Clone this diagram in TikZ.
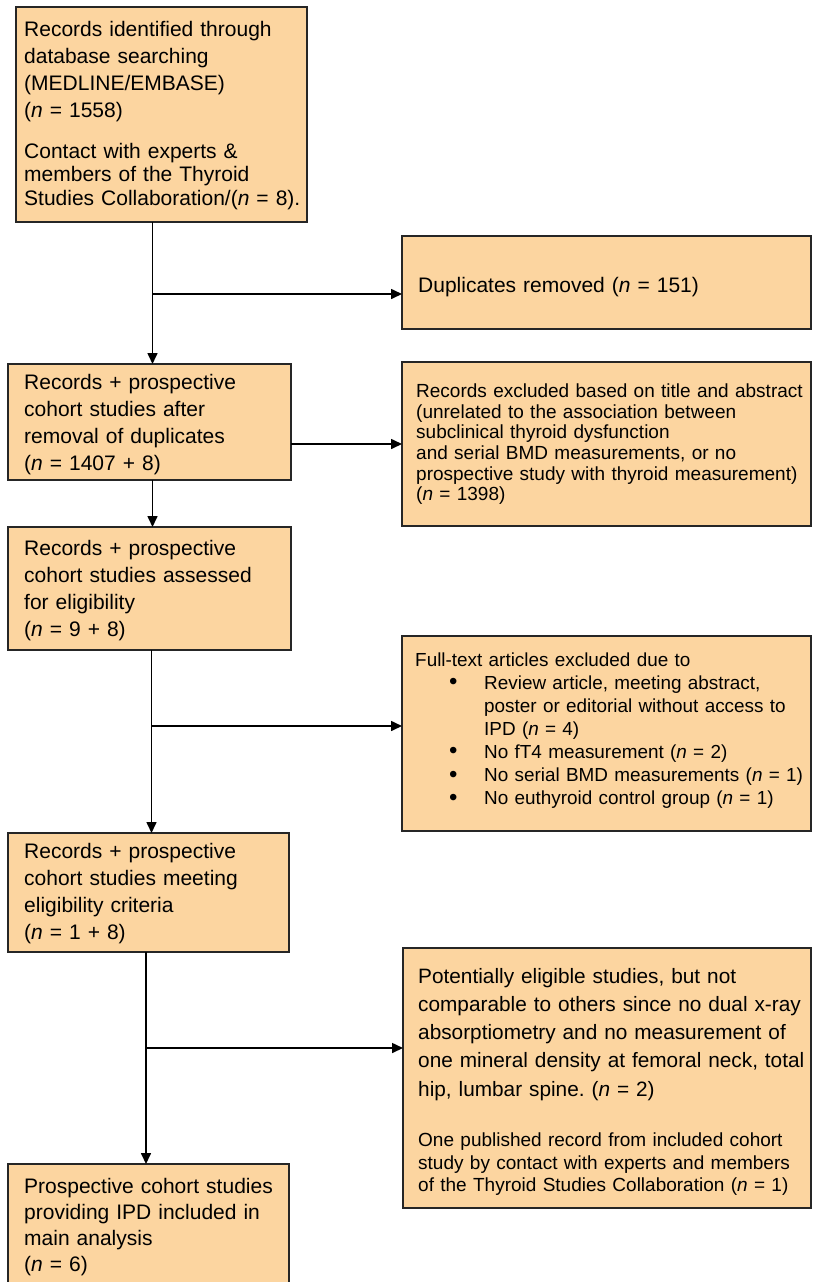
\documentclass[tikz,border=0pt]{standalone}
\usepackage{fontspec}
\setmainfont{Liberation Sans}
\usetikzlibrary{arrows.meta,calc}
\definecolor{peach}{RGB}{252,213,160}
\newcommand{\bul}{\makebox[34pt][l]{\hspace*{-1pt}\smash{\raisebox{-0.5pt}{\fontsize{24}{24}\selectfont\textbullet}}}}
\begin{document}
\frenchspacing
\begin{tikzpicture}[x=1pt,y=-1pt,
 box/.style={draw=black!85,line width=1.2pt,fill=peach,rectangle,anchor=north west,inner sep=0pt,outer sep=0pt},
 txt/.style={anchor=base west,align=left,inner sep=0pt,text width=400pt,execute at begin node=\frenchspacing},
 big/.style={font=\fontsize{21}{27.3}\selectfont},
 small/.style={font=\fontsize{19}{20.6}\selectfont},
 arr/.style={line width=1.6pt,-{Triangle[length=11pt,width=10pt]}}]
\useasboundingbox (0,0) rectangle (813,1282);
% boxes
\node[box,minimum width=291pt,minimum height=215pt] (A) at (16,7) {};
\node[box,minimum width=409pt,minimum height=93pt] (B) at (402,236) {};
\node[box,minimum width=283pt,minimum height=116pt] (C) at (8,364) {};
\node[box,minimum width=409pt,minimum height=164pt] (D) at (402,362) {};
\node[box,minimum width=283pt,minimum height=123pt] (E) at (8,527) {};
\node[box,minimum width=409pt,minimum height=195pt] (F) at (402,636) {};
\node[box,minimum width=281pt,minimum height=119pt] (G) at (8,833) {};
\node[box,minimum width=408pt,minimum height=260pt] (H) at (403,948) {};
\node[box,minimum width=281pt,minimum height=130pt] (I) at (8,1164) {};
% texts
\node[txt,big] (At1) at (24,36) {Records identified through\\database searching\\(MEDLINE/EMBASE)\\(\textit{n} = 1558)};
\node[txt,font=\fontsize{21}{23.5}\selectfont] (At2) at (24,158) {Contact with experts \&\\members of the Thyroid\\Studies Collaboration/(\textit{n} = 8).};
\node[txt,big] (Bt) at (418,292) {Duplicates removed (\textit{n} = 151)};
\node[txt,big] (Ct) at (24,389) {Records + prospective\\cohort studies after\\removal of duplicates\\(\textit{n} = 1407 + 8)};
\node[txt,small] (Dt) at (416,397.7) {Records excluded based on title and abstract\\(unrelated to the association between\\subclinical thyroid dysfunction\\and serial BMD measurements, or no\\prospective study with thyroid measurement)\\(\textit{n} = 1398)};
\node[txt,big] (Et) at (24,555) {Records + prospective\\cohort studies assessed\\for eligibility\\(\textit{n} = 9 + 8)};
\node[txt,font=\fontsize{18.9}{23.1}\selectfont] (Ft) at (415,666) {Full-text articles excluded due to\\
\hspace*{35pt}\bul Review article, meeting abstract,\\
\hspace*{69pt}poster or editorial without access to\\
\hspace*{69pt}IPD (\textit{n} = 4)\\
\hspace*{35pt}\bul No fT4 measurement (\textit{n} = 2)\\
\hspace*{35pt}\bul No serial BMD measurements (\textit{n} = 1)\\
\hspace*{35pt}\bul No euthyroid control group (\textit{n} = 1)};
\node[txt,big] (Gt) at (24,858) {Records + prospective\\cohort studies meeting\\eligibility criteria\\(\textit{n} = 1 + 8)};
\node[txt,font=\fontsize{20.8}{28.2}\selectfont] (Ht1) at (418,983.3) {Potentially eligible studies, but not\\comparable to others since no dual x-ray\\absorptiometry and no measurement of\\one mineral density at femoral neck, total\\hip, lumbar spine. (\textit{n} = 2)};
\node[txt,font=\fontsize{19}{22.5}\selectfont] (Ht2) at (418,1146.7) {One published record from included cohort\\study by contact with experts and members\\of the Thyroid Studies Collaboration (\textit{n} = 1)};
\node[txt,font=\fontsize{21}{26.3}\selectfont] (It) at (24,1193) {Prospective cohort studies\\providing IPD included in\\main analysis\\(\textit{n} = 6)};
% connectors
\coordinate (j1) at (152.5,294);
\coordinate (j3) at (151.5,726);
\coordinate (j4) at (146,1048);
\draw[arr] (A.south -| j1) -- (C.north -| j1);
\draw[arr] (j1) -- (j1 -| B.west);
\draw[arr] (C.east |- D.west) -- (D.west);
\draw[arr] (C.south -| j1) -- (E.north -| j1);
\draw[arr] (E.south -| j3) -- (G.north -| j3);
\draw[arr] (j3) -- (j3 -| F.west);
\draw[arr] (G.south -| j4) -- (I.north -| j4);
\draw[arr] (j4) -- (j4 -| H.west);
\end{tikzpicture}
\end{document}
